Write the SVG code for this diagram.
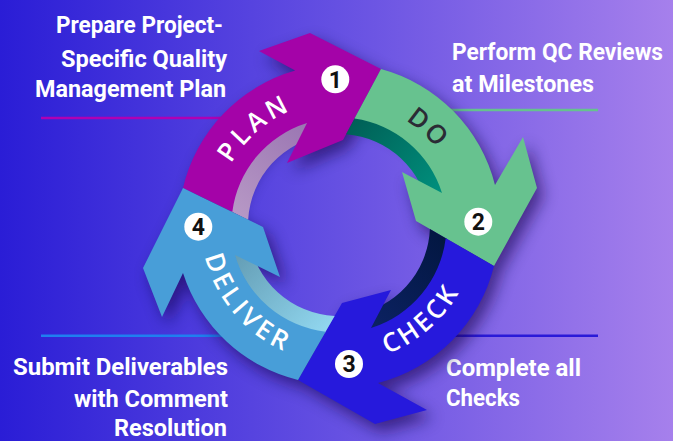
<svg xmlns="http://www.w3.org/2000/svg" xmlns:xlink="http://www.w3.org/1999/xlink" width="673" height="441" viewBox="0 0 673 441">
<style>
.side{font-family:Roboto,"Liberation Sans",sans-serif;font-weight:700;fill:#ffffff;}
.arc{font-family:"Open Sans","Liberation Sans",sans-serif;font-weight:600;font-size:26px;}
.num{font-family:Roboto,"Liberation Sans",sans-serif;font-weight:700;font-size:23px;fill:#111111;text-anchor:middle;}
.badge{fill:#ffffff;}
</style>
<defs>
<linearGradient id="bg" x1="0" y1="0" x2="1" y2="0">
<stop offset="0" stop-color="#2a1dd6"/>
<stop offset="0.5" stop-color="#6550e2"/>
<stop offset="1" stop-color="#a680ec"/>
</linearGradient>
<linearGradient id="gPlanWall" gradientUnits="userSpaceOnUse" x1="325" y1="120" x2="235" y2="235">
<stop offset="0" stop-color="#9772b0"/><stop offset="1" stop-color="#bb9dc8"/>
</linearGradient>
<linearGradient id="gDoWall" gradientUnits="userSpaceOnUse" x1="345" y1="125" x2="445" y2="210">
<stop offset="0" stop-color="#005e55"/><stop offset="1" stop-color="#009682"/>
</linearGradient>
<linearGradient id="gCheckWall" gradientUnits="userSpaceOnUse" x1="445" y1="230" x2="345" y2="330">
<stop offset="0" stop-color="#021640"/><stop offset="1" stop-color="#0d2468"/>
</linearGradient>
<linearGradient id="gDelWall" gradientUnits="userSpaceOnUse" x1="330" y1="330" x2="235" y2="235">
<stop offset="0" stop-color="#92d8f0"/><stop offset="1" stop-color="#5e96ae"/>
</linearGradient>
<filter id="sh" x="-20%" y="-20%" width="140%" height="140%">
<feGaussianBlur stdDeviation="8"/><feOffset dx="6" dy="8"/>
</filter>
<path id="bPlan" d="M183,188 A160.5,160.5 0 0 1 295.2,70.6 L259,51 L310,33 L381,69 L343,140 L287,163 L307,123 A107.5,107.5 0 0 0 232.29,212.03 Z"/>
<path id="bDo" d="M381,69 A160.5,160.5 0 0 1 495,185 L523,137 L537,188 L494,266 L416,221 L402,172 L442,193 A107.5,107.5 0 0 0 354.45,118.61 Z"/>
<path id="bCheck" d="M494,266 A160.5,160.5 0 0 1 378,383 L427,410 L375,424 L298,380 L342,303 L391,290 L371,328 A107.5,107.5 0 0 0 445.69,238.13 Z"/>
<path id="bDel" d="M298,380 A160.5,160.5 0 0 1 183,273 L162,317 L143,268 L183,188 L263,227 L280,277 L235,255 A107.5,107.5 0 0 0 325.62,331.67 Z"/>
<path id="tpPlan" d="M215,225 A124,124 0 0 1 356.26,102.2"/>
<path id="tpDo" d="M339,101 A124,124 0 0 1 462.53,214.19"/>
<path id="tpCheck" d="M326.97,362.47 A139,139 0 0 0 476.81,232.22"/>
<path id="tpDel" d="M201.53,212.97 A139,139 0 0 0 329.37,362.66"/>
</defs>

<rect x="0" y="0" width="673" height="441" fill="url(#bg)"/>

<g id="rules" stroke-width="2.5">
<line x1="41" y1="118" x2="232" y2="118" stroke="#b000b4"/>
<line x1="440" y1="110" x2="598" y2="110" stroke="#66c28e"/>
<line x1="41" y1="335.7" x2="232" y2="335.7" stroke="#1f7ff0"/>
<line x1="440" y1="335.7" x2="598" y2="335.7" stroke="#2a1ad8"/>
</g>

<g id="captions" class="side">
<text x="56" y="33" font-size="24" textLength="167" lengthAdjust="spacingAndGlyphs">Prepare Project-</text>
<text x="61" y="66.5" font-size="24" textLength="166" lengthAdjust="spacingAndGlyphs">Specific Quality</text>
<text x="35" y="97" font-size="24" textLength="191" lengthAdjust="spacingAndGlyphs">Management Plan</text>
<text x="452" y="60" font-size="23.5" textLength="211" lengthAdjust="spacingAndGlyphs">Perform QC Reviews</text>
<text x="452" y="92" font-size="23.5" textLength="142" lengthAdjust="spacingAndGlyphs">at Milestones</text>
<text x="13" y="375" font-size="24" textLength="215" lengthAdjust="spacingAndGlyphs">Submit Deliverables</text>
<text x="74" y="407" font-size="24" textLength="154" lengthAdjust="spacingAndGlyphs">with Comment</text>
<text x="114" y="435.5" font-size="24" textLength="113" lengthAdjust="spacingAndGlyphs">Resolution</text>
<text x="446" y="375.5" font-size="24" textLength="135" lengthAdjust="spacingAndGlyphs">Complete all</text>
<text x="446" y="406" font-size="24" textLength="74" lengthAdjust="spacingAndGlyphs">Checks</text>
</g>

<g id="shadow" filter="url(#sh)" opacity="0.6" fill="#12064a">
<use xlink:href="#bPlan"/><use xlink:href="#bDo"/><use xlink:href="#bCheck"/><use xlink:href="#bDel"/>
</g>

<g id="plan">
<path d="M230.86,211.33 A109,109 0 0 1 323.83,117.06 L326.34,134.89 A91,91 0 0 0 248.15,219.76 Z" fill="url(#gPlanWall)"/>
<use xlink:href="#bPlan" fill="#a403a8"/>
<text class="arc" fill="#ffffff" letter-spacing="4"><textPath xlink:href="#tpPlan" startOffset="50%" text-anchor="middle">PLAN</textPath></text>
<circle class="badge" cx="335.3" cy="79.3" r="14"/>
<text class="num" x="335.3" y="87.5">1</text>
</g>

<g id="do">
<path d="M355.2,117.21 A109,109 0 0 1 446.94,209.83 L429.11,212.34 A91,91 0 0 0 346.06,134.28 Z" fill="url(#gDoWall)"/>
<use xlink:href="#bDo" fill="#67c28f"/>
<text class="arc" fill="#2b2b35" letter-spacing="2"><textPath xlink:href="#tpDo" startOffset="50%" text-anchor="middle">DO</textPath></text>
<circle class="badge" cx="478.3" cy="221.7" r="14"/>
<text class="num" x="478.3" y="229.9">2</text>
</g>

<g id="check">
<path d="M447.11,238.95 A109,109 0 0 1 354.17,332.94 L351.66,315.11 A91,91 0 0 0 429.91,229.02 Z" fill="url(#gCheckWall)"/>
<use xlink:href="#bCheck" fill="#2619dc"/>
<text class="arc" fill="#ffffff" letter-spacing="3"><textPath xlink:href="#tpCheck" startOffset="50%" text-anchor="middle">CHECK</textPath></text>
<circle class="badge" cx="349" cy="364" r="14"/>
<text class="num" x="349" y="372.2">3</text>
</g>

<g id="deliver">
<path d="M324.81,333.07 A109,109 0 0 1 231.06,240.17 L248.89,237.66 A91,91 0 0 0 334.63,315.9 Z" fill="url(#gDelWall)"/>
<use xlink:href="#bDel" fill="#489ed8"/>
<text class="arc" fill="#ffffff" letter-spacing="4"><textPath xlink:href="#tpDel" startOffset="50%" text-anchor="middle">DELIVER</textPath></text>
<circle class="badge" cx="198.3" cy="226.7" r="14"/>
<text class="num" x="198.3" y="234.9">4</text>
</g>
</svg>
